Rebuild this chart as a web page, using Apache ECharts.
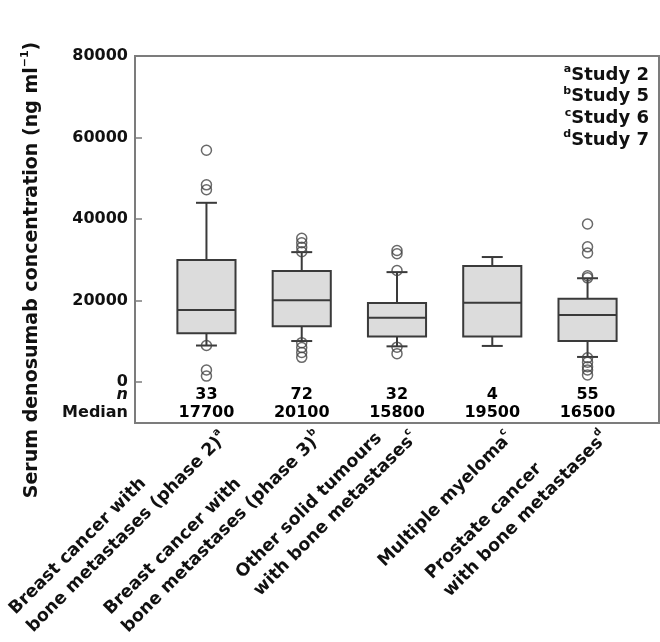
<!DOCTYPE html>
<html>
<head>
<meta charset="utf-8">
<script src="https://cdn.jsdelivr.net/npm/echarts@6/dist/echarts.min.js"></script>
<style>html,body{margin:0;padding:0;background:#fff}#c{width:660px;height:642px}</style>
</head>
<body>
<div id="c"></div>
<script>
// ---- data ----
const categoryLines = [
  ['Breast cancer with', 'bone metastases (phase 2)'],
  ['Breast cancer with', 'bone metastases (phase 3)'],
  ['Other solid tumours', 'with bone metastases'],
  ['Multiple myeloma'],
  ['Prostate cancer', 'with bone metastases']
];
const categoryNotes = ['a', 'b', 'c', 'c', 'd'];
const lowerWhisker = [9000, 10100, 8800, 8900, 6200];
const q1 = [12000, 13700, 11200, 11200, 10100];
const medianValues = [17700, 20100, 15800, 19500, 16500];
const q3 = [30000, 27300, 19400, 28500, 20500];
const upperWhisker = [44000, 31900, 27000, 30700, 25500];
const outliers = [
  [1, 56900], [1, 48400], [1, 47200], [1, 9000], [1, 3000], [1, 1500],
  [2, 35300], [2, 34200], [2, 33100], [2, 32000], [2, 9700], [2, 8500], [2, 7300], [2, 6100],
  [3, 32300], [3, 31500], [3, 27400], [3, 8600], [3, 7000],
  [5, 38800], [5, 33200], [5, 31700], [5, 26100], [5, 25600],
  [5, 6000], [5, 4900], [5, 3800], [5, 3000], [5, 1800]
];
const nValues = [33, 72, 32, 4, 55];
const medianLabels = ['17700', '20100', '15800', '19500', '16500'];
const yTicks = [0, 20000, 40000, 60000, 80000];
const legendNotes = ['a', 'b', 'c', 'd'];
const legendStudies = ['Study 2', 'Study 5', 'Study 6', 'Study 7'];

// ---- layout constants ----
const FONT = 'DejaVu Sans';
const N_ROW = -3100, MED_ROW = -7500;
const BOX_W = 0.61, CAP_W = 0.22;
const LABEL_SHIFT = 0.28;

const positions = categoryLines.map((_, i) => i + 1);
const boxData = positions.map((p, i) => [p, lowerWhisker[i], q1[i], medianValues[i], q3[i], upperWhisker[i]]);
const nRowData = nValues.map((v, i) => [positions[i], N_ROW, String(v)]);
const medRowData = medianLabels.map((v, i) => [positions[i], MED_ROW, v]);

const chart = echarts.init(document.getElementById('c'), null, {renderer: 'canvas'});
const lineStyle = {stroke: '#3a3a3a', lineWidth: 2};
const rowLabel = {show: true, position: 'inside', formatter: p => p.data[2], fontFamily: FONT, fontWeight: 'bold', fontSize: 16, color: '#000', opacity: 1};

const option = {
  animation: false,
  backgroundColor: '#fff',
  grid: {left: 135, right: 1, top: 56, bottom: 219, outerBoundsMode: 'none', containLabel: false,
    show: true, borderColor: '#7c7c7c', borderWidth: 2, backgroundColor: 'transparent'},
  xAxis: {
    type: 'value', min: 0.25, max: 5.75,
    axisLine: {show: false}, axisTick: {show: false}, splitLine: {show: false},
    axisLabel: {
      customValues: positions.map(p => p + LABEL_SHIFT),
      rotate: 45, align: 'right', verticalAlign: 'bottom', margin: 21,
      formatter: function (v) {
        const i = Math.round(v - LABEL_SHIFT) - 1;
        const lines = categoryLines[i];
        return lines.map((l, k) => k === lines.length - 1 ? '{t|' + l + '}{s|' + categoryNotes[i] + '}' : '{t|' + l + '}').join('\n');
      },
      rich: {
        t: {fontFamily: FONT, fontWeight: 'bold', fontSize: 17.5, color: '#111', lineHeight: 25, align: 'left'},
        s: {fontFamily: FONT, fontWeight: 'bold', fontSize: 10, color: '#111', lineHeight: 11, verticalAlign: 'top', align: 'left'}
      }
    }
  },
  yAxis: {
    type: 'value', min: -10000, max: 80000,
    axisLine: {show: false}, splitLine: {show: false},
    axisTick: {show: true, inside: true, length: 7, customValues: yTicks, lineStyle: {color: '#7c7c7c', width: 1.5}},
    axisLabel: {
      customValues: yTicks.concat([N_ROW, MED_ROW]),
      margin: 7,
      fontFamily: FONT, fontWeight: 'bold', fontSize: 16, color: '#111',
      formatter: function (v) {
        if (v === N_ROW) return '{i|n}';
        if (v === MED_ROW) return 'Median';
        return String(v);
      },
      rich: {i: {fontFamily: FONT, fontWeight: 'bold', fontStyle: 'italic', fontSize: 16, color: '#111'}}
    }
  },
  series: [
    {
      type: 'custom',
      data: boxData,
      renderItem: function (params, api) {
        const x = api.value(0);
        const xl = api.coord([x - BOX_W / 2, 0])[0];
        const xr = api.coord([x + BOX_W / 2, 0])[0];
        const cl = api.coord([x - CAP_W / 2, 0])[0];
        const cr = api.coord([x + CAP_W / 2, 0])[0];
        const xc = api.coord([x, 0])[0];
        const yLow = api.coord([x, api.value(1)])[1];
        const yQ1 = api.coord([x, api.value(2)])[1];
        const yMed = api.coord([x, api.value(3)])[1];
        const yQ3 = api.coord([x, api.value(4)])[1];
        const yHigh = api.coord([x, api.value(5)])[1];
        return {
          type: 'group',
          children: [
            {type: 'line', shape: {x1: xc, y1: yQ3, x2: xc, y2: yHigh}, style: lineStyle},
            {type: 'line', shape: {x1: xc, y1: yQ1, x2: xc, y2: yLow}, style: lineStyle},
            {type: 'line', shape: {x1: cl, y1: yHigh, x2: cr, y2: yHigh}, style: lineStyle},
            {type: 'line', shape: {x1: cl, y1: yLow, x2: cr, y2: yLow}, style: lineStyle},
            {type: 'rect', shape: {x: xl, y: yQ3, width: xr - xl, height: yQ1 - yQ3}, style: {fill: '#dcdcdc', stroke: '#3a3a3a', lineWidth: 2}},
            {type: 'line', shape: {x1: xl, y1: yMed, x2: xr, y2: yMed}, style: lineStyle}
          ]
        };
      }
    },
    {
      type: 'scatter',
      data: outliers,
      symbol: 'circle', symbolSize: 10,
      itemStyle: {color: 'rgba(0,0,0,0)', borderColor: '#444', borderWidth: 1.5},
      z: 5
    },
    {
      type: 'scatter', data: nRowData, symbolSize: 0,
      itemStyle: {color: '#000'},
      label: rowLabel
    },
    {
      type: 'scatter', data: medRowData, symbolSize: 0,
      itemStyle: {color: '#000'},
      label: rowLabel
    }
  ],
  graphic: [
    {
      type: 'text', x: 32, y: 270, rotation: Math.PI / 2,
      style: {
        text: '{t|Serum denosumab concentration (ng ml}{s|−1}{t|)}',
        align: 'center', verticalAlign: 'middle',
        rich: {
          t: {fontFamily: FONT, fontWeight: 'bold', fontSize: 19, fill: '#111', lineHeight: 24},
          s: {fontFamily: FONT, fontWeight: 'bold', fontSize: 11, fill: '#111', lineHeight: 12, verticalAlign: 'top'}
        }
      }
    },
    {
      type: 'text', x: 649, y: 64,
      style: {
        text: legendStudies.map((s, i) => '{s|' + legendNotes[i] + '}{t|' + s + '}').join('\n'),
        align: 'right', verticalAlign: 'top',
        rich: {
          t: {fontFamily: FONT, fontWeight: 'bold', fontSize: 18, fill: '#111', lineHeight: 21.7},
          s: {fontFamily: FONT, fontWeight: 'bold', fontSize: 11, fill: '#111', lineHeight: 12, verticalAlign: 'top'}
        }
      }
    }
  ]
};
chart.setOption(option);
</script>
</body>
</html>
